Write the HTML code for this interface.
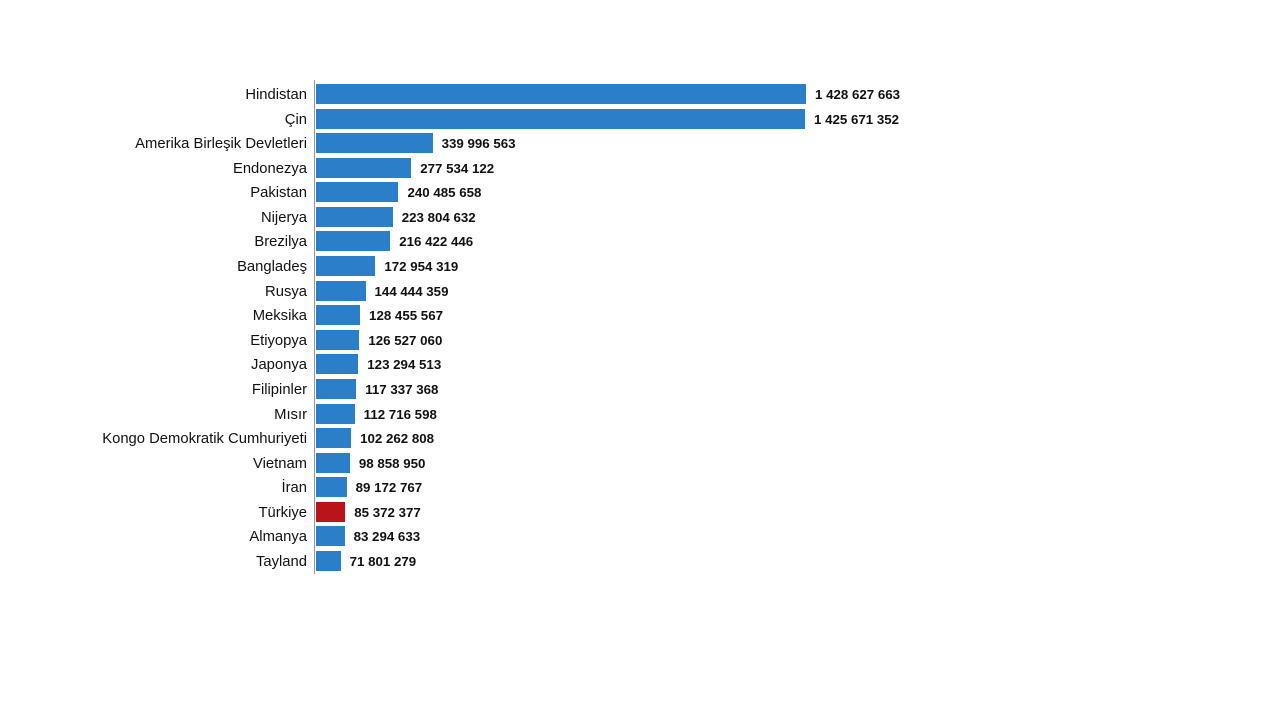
<!DOCTYPE html>
<html><head><meta charset="utf-8"><style>
body{margin:0;width:1280px;height:720px;background:#fff;position:relative;overflow:hidden;font-family:"Liberation Sans",sans-serif}
.n{position:absolute;right:973px;font-size:14.8px;color:#111;line-height:16px;white-space:nowrap}
.b{position:absolute;left:316px;height:20px;background:#2a7fc8}
.v{position:absolute;font-size:13.3px;font-weight:bold;color:#111;line-height:16px;white-space:nowrap}
.ax{position:absolute;left:314px;top:80px;width:1px;height:494px;background:#999}
</style></head><body>
<div class="ax"></div>
<div id="c"></div>
<script>
var d=[["Hindistan",1428627663],["Çin",1425671352],["Amerika Birleşik Devletleri",339996563],["Endonezya",277534122],["Pakistan",240485658],["Nijerya",223804632],["Brezilya",216422446],["Bangladeş",172954319],["Rusya",144444359],["Meksika",128455567],["Etiyopya",126527060],["Japonya",123294513],["Filipinler",117337368],["Mısır",112716598],["Kongo Demokratik Cumhuriyeti",102262808],["Vietnam",98858950],["İran",89172767],["Türkiye",85372377],["Almanya",83294633],["Tayland",71801279]];
var h="";
d.forEach(function(r,i){var cy=94+i*24.58;var w=r[1]/1e6*0.343;
var s=String(r[1]).replace(/\B(?=(\d{3})+(?!\d))/g," ");
h+='<div class="n" style="top:'+(cy-7)+'px">'+r[0]+'</div>';
h+='<div class="b" style="top:'+(cy-10)+'px;width:'+w+'px'+(i==17?';background:#b8141a':'')+'"></div>';
h+='<div class="v" style="top:'+(cy-7)+'px;left:'+(316+w+9)+'px">'+s+'</div>';});
document.getElementById("c").innerHTML=h;
</script>
</body></html>
